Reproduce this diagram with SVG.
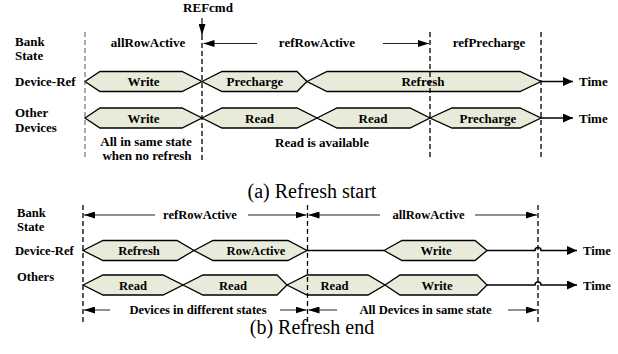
<svg xmlns="http://www.w3.org/2000/svg" width="618" height="354" viewBox="0 0 618 354">
<style>
text{font-family:"Liberation Serif","Times New Roman",serif;fill:#000}
.b{font-weight:bold;font-size:13px}
.bs{font-weight:bold;font-size:12.6px}
.c{font-size:20px}
.m{text-anchor:middle}
.hex{fill:#E9EBDA;stroke:#000;stroke-width:1.3;stroke-linejoin:miter}
.dash{stroke:#000;stroke-width:1.3;stroke-dasharray:5 3;fill:none}
.dashl{stroke:#555;stroke-width:1;stroke-dasharray:5 3;fill:none}
.ann{stroke:#222;stroke-width:1;fill:none;marker-end:url(#ah)}
.tl{stroke:#000;stroke-width:1.5;fill:none}
.ta{marker-end:url(#th)}
</style>
<defs>
<marker id="ah" markerUnits="userSpaceOnUse" markerWidth="11" markerHeight="7" refX="11" refY="3.5" orient="auto"><path d="M0,0 L11,3.5 L0,7 z" fill="#000"/></marker>
<marker id="th" markerUnits="userSpaceOnUse" markerWidth="10" markerHeight="9" refX="10" refY="4.5" orient="auto"><path d="M0,0 L10,4.5 L0,9 z" fill="#000"/></marker>
</defs>

<!-- Part (a) -->
<g id="labels-a">
<text class="b" x="15" y="45.5">Bank</text>
<text class="b" x="15" y="60">State</text>
<text class="b" x="15" y="86">Device-Ref</text>
<text class="b" x="15" y="117">Other</text>
<text class="b" x="15" y="131.5">Devices</text>
<text class="b m" x="208" y="12">REFcmd</text>
<text class="b m" x="148" y="47">allRowActive</text>
<text class="b m" x="317" y="47">refRowActive</text>
<text class="b m" x="489" y="47">refPrecharge</text>
<text class="b m" x="146" y="145.5">All in same state</text>
<text class="b m" x="147" y="160">when no refresh</text>
<text class="b m" x="322" y="147">Read is available</text>
</g>

<g id="a-devref-write"><polygon class="hex" points="85,81.5 100,71.5 182,71.5 202,81.5 182,91.5 100,91.5"/><text class="b m" x="143.5" y="86">Write</text></g>
<g id="a-devref-precharge"><polygon class="hex" points="202,81.5 222,71.5 297,71.5 307,81.5 297,91.5 222,91.5"/><text class="b m" x="255" y="86">Precharge</text></g>
<g id="a-devref-refresh"><polygon class="hex" points="307,81.5 327,71.5 520,71.5 541,81.5 520,91.5 327,91.5"/><text class="b m" x="423" y="86">Refresh</text></g>

<g id="a-other-write"><polygon class="hex" points="85,118 100,108 182,108 202,118 182,128 100,128"/><text class="b m" x="143.5" y="122.5">Write</text></g>
<g id="a-other-read1"><polygon class="hex" points="202,118 222,108 297,108 317,118 297,128 222,128"/><text class="b m" x="259.5" y="122.5">Read</text></g>
<g id="a-other-read2"><polygon class="hex" points="317,118 337,108 410,108 430,118 410,128 337,128"/><text class="b m" x="373" y="122.5">Read</text></g>
<g id="a-other-precharge"><polygon class="hex" points="430,118 452,108 520,108 541,118 520,128 452,128"/><text class="b m" x="488" y="122.5">Precharge</text></g>

<g id="a-time">
<text class="b" x="579" y="86">Time</text>
<text class="b" x="579" y="122.5">Time</text>
</g>

<text class="c m" x="312" y="198">(a) Refresh start</text>

<!-- Part (b) -->
<g id="labels-b">
<text class="bs" x="17" y="216.5">Bank</text>
<text class="bs" x="17" y="230.5">State</text>
<text class="bs" x="15" y="255">Device-Ref</text>
<text class="bs" x="17" y="281">Others</text>
<text class="bs m" x="200" y="219">refRowActive</text>
<text class="bs m" x="428.5" y="219">allRowActive</text>
<text class="bs m" x="198" y="314">Devices in different states</text>
<text class="bs m" x="425.5" y="314">All Devices in same state</text>
</g>

<g id="b-devref-refresh"><polygon class="hex" points="83,250.5 103,240.5 177,240.5 194,250.5 177,260.5 103,260.5"/><text class="bs m" x="139" y="255">Refresh</text></g>
<g id="b-devref-rowactive"><polygon class="hex" points="194,250.5 213,240.5 288,240.5 307,250.5 288,260.5 213,260.5"/><text class="bs m" x="256" y="255">RowActive</text></g>
<g id="b-devref-write"><polygon class="hex" points="384,250.5 402,240.5 475,240.5 487,250.5 475,260.5 402,260.5"/><text class="bs m" x="436" y="255">Write</text></g>

<g id="b-others-read1"><polygon class="hex" points="83,285 103,275 163,275 183,285 163,295 103,295"/><text class="bs m" x="133" y="289.5">Read</text></g>
<g id="b-others-read2"><polygon class="hex" points="183,285 203,275 277,275 287,285 277,295 203,295"/><text class="bs m" x="233" y="289.5">Read</text></g>
<g id="b-others-read3"><polygon class="hex" points="287,285 307,275 368,275 385,285 368,295 307,295"/><text class="bs m" x="334.5" y="289.5">Read</text></g>
<g id="b-others-write"><polygon class="hex" points="385,285 400,275 477,275 487,285 477,295 400,295"/><text class="bs m" x="437" y="289.5">Write</text></g>

<g id="b-time">
<text class="bs" x="583" y="255">Time</text>
<text class="bs" x="583" y="289.5">Time</text>
</g>

<text class="c m" x="312" y="334">(b) Refresh end</text>

<g id="connectors">
<line class="tl ta" x1="541" y1="81.5" x2="573" y2="81.5"/>
<line class="tl ta" x1="541" y1="118" x2="573" y2="118"/>
<line class="dashl" x1="85" y1="32" x2="85" y2="160"/>
<line class="dash" x1="202" y1="35" x2="202" y2="160"/>
<line class="dash" x1="430" y1="32" x2="430" y2="160"/>
<line class="dash" x1="541" y1="32" x2="541" y2="160"/>
<line class="ann" x1="202" y1="18" x2="202" y2="35" style="stroke-width:1.3"/>
<line class="ann" x1="257" y1="43.5" x2="203.5" y2="43.5"/>
<line class="ann" x1="383" y1="43.5" x2="429" y2="43.5"/>

<path class="tl" d="M307,250.5 H384"/>
<path class="tl ta" d="M487,250.5 H535 A3,3 0 0 1 541,250.5 H577"/>
<path class="tl ta" d="M487,285 H535 A3,3 0 0 1 541,285 H577"/>
<line class="dash" x1="83" y1="205" x2="83" y2="323"/>
<line class="dash" x1="307.5" y1="205" x2="307.5" y2="323"/>
<line class="dash" x1="538" y1="205" x2="538" y2="323"/>
<line class="ann" x1="155" y1="215" x2="84" y2="215"/>
<line class="ann" x1="248" y1="215" x2="306.5" y2="215"/>
<line class="ann" x1="380" y1="215" x2="308.5" y2="215"/>
<line class="ann" x1="475" y1="215" x2="537" y2="215"/>
<line class="ann" x1="110" y1="310" x2="84" y2="310"/>
<line class="ann" x1="280" y1="310" x2="306.5" y2="310"/>
<line class="ann" x1="337" y1="310" x2="308.5" y2="310"/>
<line class="ann" x1="508" y1="310" x2="537" y2="310"/>
</g>
</svg>
